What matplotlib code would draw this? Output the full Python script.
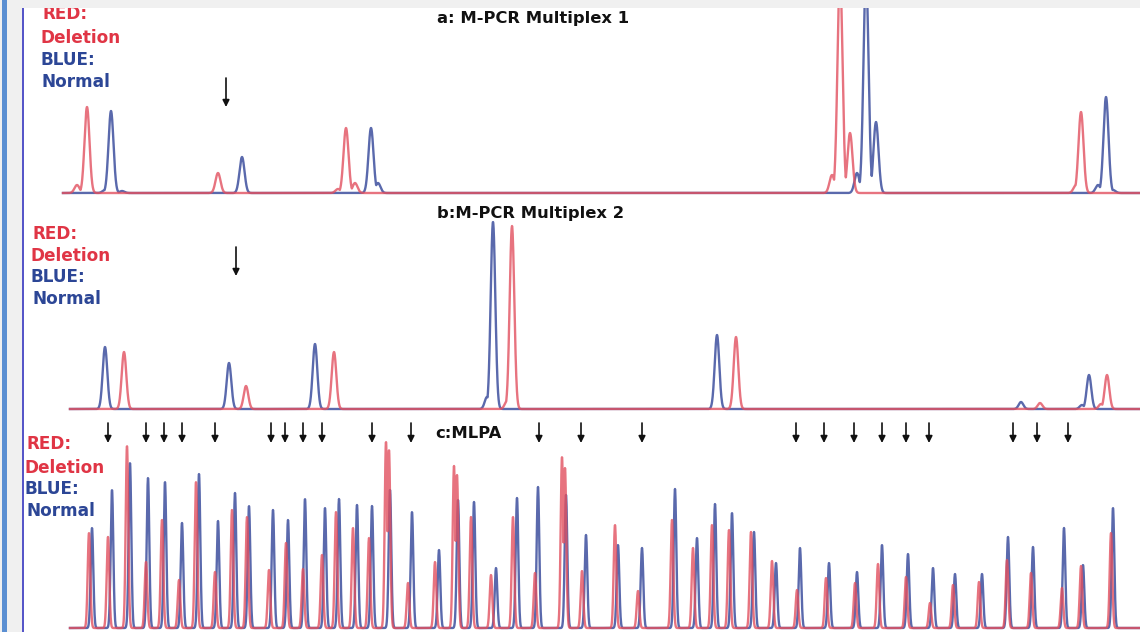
import numpy as np
import matplotlib
matplotlib.use("Agg")
import matplotlib.pyplot as plt
from matplotlib.patches import Rectangle

# ---------------- data (x = migration position, h = peak height) ----------------
# Panel a: M-PCR Multiplex 1
a_red_pos = [77, 87, 218, 338, 346, 355, 832, 840, 850, 1076, 1081]
a_red_h   = [8, 86, 20, 4, 65, 10, 18, 220, 60, 8, 81]
a_blue_pos = [105, 111, 122, 242, 371, 378, 857, 866, 876, 1098, 1106, 1113]
a_blue_h   = [3, 82, 2, 36, 65, 10, 20, 220, 71, 8, 96, 3]
a_arrows = [226]

# Panel b: M-PCR Multiplex 2
b_blue_pos = [105, 229, 315, 487, 493, 717, 1021, 1082, 1089]
b_blue_h   = [62, 46, 65, 12, 187, 74, 7, 4, 34]
b_red_pos  = [124, 246, 334, 507, 512, 736, 1040, 1101, 1107]
b_red_h    = [57, 23, 57, 8, 183, 72, 6, 5, 34]
b_arrows = [236]

# Panel c: MLPA
c_red_pos = [89, 108, 127, 146, 162, 179, 196, 215, 232, 247, 269, 286, 303, 322,
             336, 353, 369, 386, 389, 408, 435, 454, 457, 471, 491, 513, 535, 562, 565,
             582, 615, 638, 672, 693, 712, 729, 751, 772, 797, 826, 855, 878,
             906, 930, 953, 979, 1007, 1031, 1062, 1081, 1111]
c_red_top = [533, 537, 446, 562, 520, 580, 482, 572, 510, 517, 570, 543, 569, 555,
             512, 528, 538, 442, 450, 583, 562, 466, 475, 517, 575, 517, 573, 457, 468,
             571, 525, 591, 520, 548, 525, 530, 532, 561, 590, 578, 583, 564,
             577, 603, 585, 582, 560, 573, 588, 566, 533]
c_blue_pos = [92, 112, 130, 148, 165, 182, 199, 218, 235, 249, 273, 288, 305, 325,
              339, 357, 372, 390, 412, 439, 458, 474, 496, 517, 538, 566, 586, 618, 642,
              675, 697, 715, 732, 754, 776, 800, 829, 857, 882, 908, 933, 955, 982,
              1008, 1033, 1064, 1083, 1113]
c_blue_top = [528, 490, 463, 478, 482, 523, 474, 521, 493, 506, 510, 520, 499, 508,
              499, 505, 506, 490, 512, 550, 500, 502, 568, 498, 487, 495, 535, 545, 548,
              489, 538, 504, 513, 532, 563, 548, 563, 572, 545, 554, 568, 574, 574,
              537, 547, 528, 565, 508]
c_arrows = [108, 146, 164, 182, 215, 271, 285, 303, 322, 372, 411, 539, 581, 642,
            796, 824, 854, 882, 906, 929, 1013, 1037, 1068]

titles = ["a: M-PCR Multiplex 1", "b:M-PCR Multiplex 2", "c:MLPA"]
legend_lines = ["RED:", "Deletion", "BLUE:", "Normal"]

# ---------------- styling ----------------
W, H = 1140, 632
RED = "#e2505f"
BLUE = "#3d4f9e"
TXT_RED = "#e03545"
TXT_BLUE = "#2c4696"
FONT = "DejaVu Sans"

fig = plt.figure(figsize=(W / 100, H / 100), dpi=100)
fig.patch.set_facecolor("white")


def fy(y):
    return 1 - y / H


def make_ax(top, bottom, base):
    ax = fig.add_axes([0, fy(bottom), 1, (bottom - top) / H])
    ax.set_xlim(0, W)
    ax.set_ylim(base - bottom, base - top)
    ax.axis("off")
    return ax


def trace(x, pos, hts, sigma):
    y = np.zeros_like(x)
    for p, h in zip(pos, hts):
        y = np.maximum(y, h * np.exp(-0.5 * ((x - p) / sigma) ** 2))
    return y


def draw_panel(ax, x0, rpos, rh, bpos, bh, sigma, lw):
    x = np.linspace(x0, W, 6000)
    ax.plot(x, trace(x, bpos, bh, sigma), color=BLUE, lw=lw, alpha=0.85,
            solid_joinstyle="round")
    ax.plot(x, trace(x, rpos, rh, sigma), color=RED, lw=lw, alpha=0.8,
            solid_joinstyle="round")


def arrows(ax, xs, ytail, ytip):
    for xa in xs:
        ax.annotate("", xy=(xa, ytip), xytext=(xa, ytail),
                    arrowprops=dict(arrowstyle="-|>", color="#111111", lw=1.2,
                                    mutation_scale=10, shrinkA=0, shrinkB=0))


def labels(x_list, y_list):
    cols = [TXT_RED, TXT_RED, TXT_BLUE, TXT_BLUE]
    for s, xx, yy, c in zip(legend_lines, x_list, y_list, cols):
        fig.text(xx / W, fy(yy), s, color=c, fontsize=12.2, fontweight="bold",
                 family=FONT, va="baseline", ha="left")


# panel a
base_a = 193
ax_a = make_ax(8, 200, base_a)
draw_panel(ax_a, 63, a_red_pos, a_red_h, a_blue_pos, a_blue_h, 2.5, 1.7)
arrows(ax_a, a_arrows, base_a - 78, base_a - 107)

# panel b
base_b = 409
ax_b = make_ax(200, 418, base_b)
draw_panel(ax_b, 70, b_red_pos, b_red_h, b_blue_pos, b_blue_h, 2.3, 1.7)
arrows(ax_b, b_arrows, base_b - 247, base_b - 276)

# panel c
base_c = 628
ax_c = make_ax(418, 632, base_c)
c_red_h = [base_c - t for t in c_red_top]
c_blue_h = [base_c - t for t in c_blue_top]
draw_panel(ax_c, 70, c_red_pos, c_red_h, c_blue_pos, c_blue_h, 1.3, 1.7)
arrows(ax_c, c_arrows, base_c - 423, base_c - 443)

# titles
fig.text(437 / W, fy(23), titles[0], fontsize=11.8, fontweight="bold",
         family=FONT, va="baseline", ha="left", color="#111111")
fig.text(437 / W, fy(218), titles[1], fontsize=11.8, fontweight="bold",
         family=FONT, va="baseline", ha="left", color="#111111")
fig.text(435 / W, fy(438), titles[2], fontsize=11.8, fontweight="bold",
         family=FONT, va="baseline", ha="left", color="#111111")

# legends
labels([43, 41, 41, 42], [19, 43, 65, 87])
labels([33, 30, 31, 33], [239, 261, 282, 304])
labels([27, 24, 24, 26], [449, 473, 494, 516])

# frame decorations (top grey band, left grey margin, blue stripes)
fig.patches.append(Rectangle((0, fy(8)), 1, 8 / H, transform=fig.transFigure,
                             facecolor="#f0f0f0", edgecolor="none", zorder=20))
fig.patches.append(Rectangle((0, 0), 22 / W, 1, transform=fig.transFigure,
                             facecolor="#f0f0f0", edgecolor="none", zorder=20))
fig.patches.append(Rectangle((1.5 / W, 0), 5.5 / W, 1, transform=fig.transFigure,
                             facecolor="#5b8fd2", edgecolor="none", zorder=21))
fig.patches.append(Rectangle((22 / W, 0), 2.2 / W, fy(8), transform=fig.transFigure,
                             facecolor="#5656c8", edgecolor="none", zorder=21))

fig.savefig("out.png", dpi=100, facecolor="white")
